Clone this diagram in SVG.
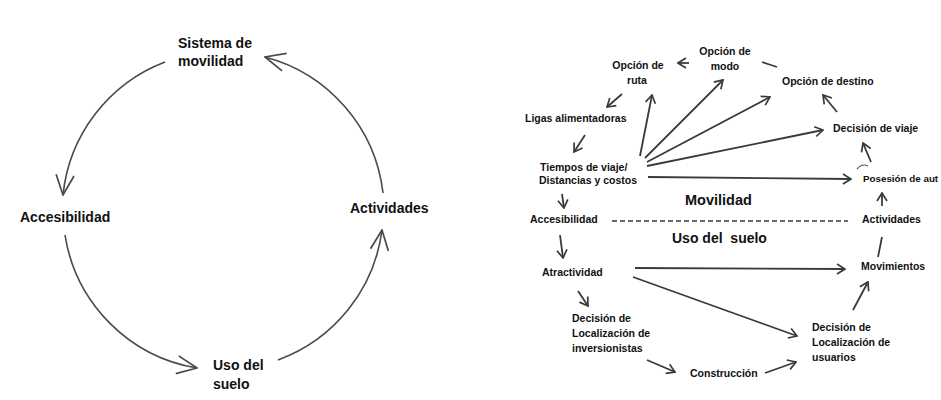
<svg xmlns="http://www.w3.org/2000/svg" width="941" height="400" viewBox="0 0 941 400">
<style>
.t{font-family:"Liberation Sans",Arial,sans-serif;font-weight:bold;fill:#111}
.big{font-size:14px}
.sm{font-size:10.5px}
.lg{font-size:14.5px}
.arc{fill:none;stroke:#4a4a4a;stroke-width:1.6;marker-end:url(#bh)}
.ln{fill:none;stroke:#3a3a3a;stroke-width:1.8;marker-end:url(#sh)}
.pl{fill:none;stroke:#3a3a3a;stroke-width:1.8}
</style>
<defs>
<marker id="bh" markerUnits="userSpaceOnUse" viewBox="0 0 22 20" refX="21" refY="10" markerWidth="22" markerHeight="20" orient="auto">
<path d="M1,1 L21,10 L1,19" fill="none" stroke="#4a4a4a" stroke-width="1.7"/>
</marker>
<marker id="sh" markerUnits="userSpaceOnUse" viewBox="0 0 10 12" refX="9" refY="6" markerWidth="10" markerHeight="12" orient="auto">
<path d="M1,1 L9,6 L1,11" fill="none" stroke="#3a3a3a" stroke-width="1.7"/>
</marker>
</defs>
<rect width="941" height="400" fill="#ffffff"/>

<g id="connectors">
<path class="arc" d="M165,62 A160,160 0 0 0 63,195"/>
<path class="arc" d="M65,235 A160,160 0 0 0 197,368"/>
<path class="arc" d="M278,360 A160,160 0 0 0 382,230"/>
<path class="arc" d="M383,193 A160,160 0 0 0 265,57"/>

<path class="ln" d="M689,63 L678,63"/>
<path class="pl" d="M762,62 L777,67"/>
<path class="ln" d="M622,94 L607,107"/>
<path class="ln" d="M585,135 L574,152"/>
<path class="ln" d="M640,156 L652,95"/>
<path class="ln" d="M645,158 L723,80"/>
<path class="ln" d="M647,162 L770,97"/>
<path class="ln" d="M647,166 L823,130"/>
<path class="ln" d="M648,177 L851,179"/>
<path class="ln" d="M837,112 L823,95"/>
<path class="ln" d="M871,162 L863,143"/>
<path fill="none" stroke="#555" stroke-width="1.2" d="M857,169 Q862,163 868,166"/>
<path class="ln" d="M562,194 L564,208"/>
<path fill="none" stroke="#3a3a3a" stroke-width="1.3" stroke-dasharray="5,3" d="M612,221 L848,221"/>
<path class="ln" d="M560,235 L563,258"/>
<path class="ln" d="M578,291 L588,306"/>
<path class="ln" d="M635,268 L845,269"/>
<path class="ln" d="M633,277 L797,336"/>
<path class="ln" d="M647,360 L675,372"/>
<path class="ln" d="M765,373 L796,362"/>
<path class="ln" d="M853,310 L868,282"/>
<path class="pl" d="M878,257 L882,237"/>
<path class="ln" d="M882,206 L882,193"/>
</g>

<g id="sistema"><text class="t big" x="178" y="48">Sistema de</text><text class="t big" x="178" y="66">movilidad</text></g>
<g id="accesibilidad-l"><text class="t big" x="20" y="222">Accesibilidad</text></g>
<g id="actividades-l"><text class="t big" x="350" y="213">Actividades</text></g>
<g id="uso-l"><text class="t big" x="213" y="370">Uso del</text><text class="t big" x="213" y="389">suelo</text></g>

<g id="opcion-ruta"><text class="t sm" x="638" y="69" text-anchor="middle">Opción de</text><text class="t sm" x="637" y="84" text-anchor="middle">ruta</text></g>
<g id="opcion-modo"><text class="t sm" x="725" y="55" text-anchor="middle">Opción de</text><text class="t sm" x="725" y="70" text-anchor="middle">modo</text></g>
<g id="opcion-destino"><text class="t sm" x="782" y="85">Opción de destino</text></g>
<g id="ligas"><text class="t sm" x="525" y="122">Ligas alimentadoras</text></g>
<g id="decision-viaje"><text class="t sm" x="833" y="132">Decisión de viaje</text></g>
<g id="tiempos"><text class="t sm" x="540" y="171">Tiempos de viaje/</text><text class="t sm" x="539" y="184">Distancias y costos</text></g>
<g id="posesion"><text class="t" font-size="9.8" x="863" y="182">Posesión de aut</text></g>
<g id="movilidad"><text class="t lg" x="685" y="205">Movilidad</text></g>
<g id="accesibilidad-r"><text class="t sm" x="530" y="223">Accesibilidad</text></g>
<g id="actividades-r"><text class="t sm" x="862" y="223">Actividades</text></g>
<g id="uso-suelo"><text class="t big" x="672" y="243" xml:space="preserve">Uso del  suelo</text></g>
<g id="atractividad"><text class="t sm" x="542" y="276">Atractividad</text></g>
<g id="movimientos"><text class="t sm" x="861" y="270">Movimientos</text></g>
<g id="decision-inv"><text class="t sm" x="572" y="322">Decisión de</text><text class="t sm" x="572" y="337">Localización de</text><text class="t sm" x="572" y="352">inversionistas</text></g>
<g id="construccion"><text class="t sm" x="690" y="377">Construcción</text></g>
<g id="decision-usu"><text class="t sm" x="812" y="331">Decisión de</text><text class="t sm" x="812" y="346">Localización de</text><text class="t sm" x="812" y="361">usuarios</text></g>
</svg>
